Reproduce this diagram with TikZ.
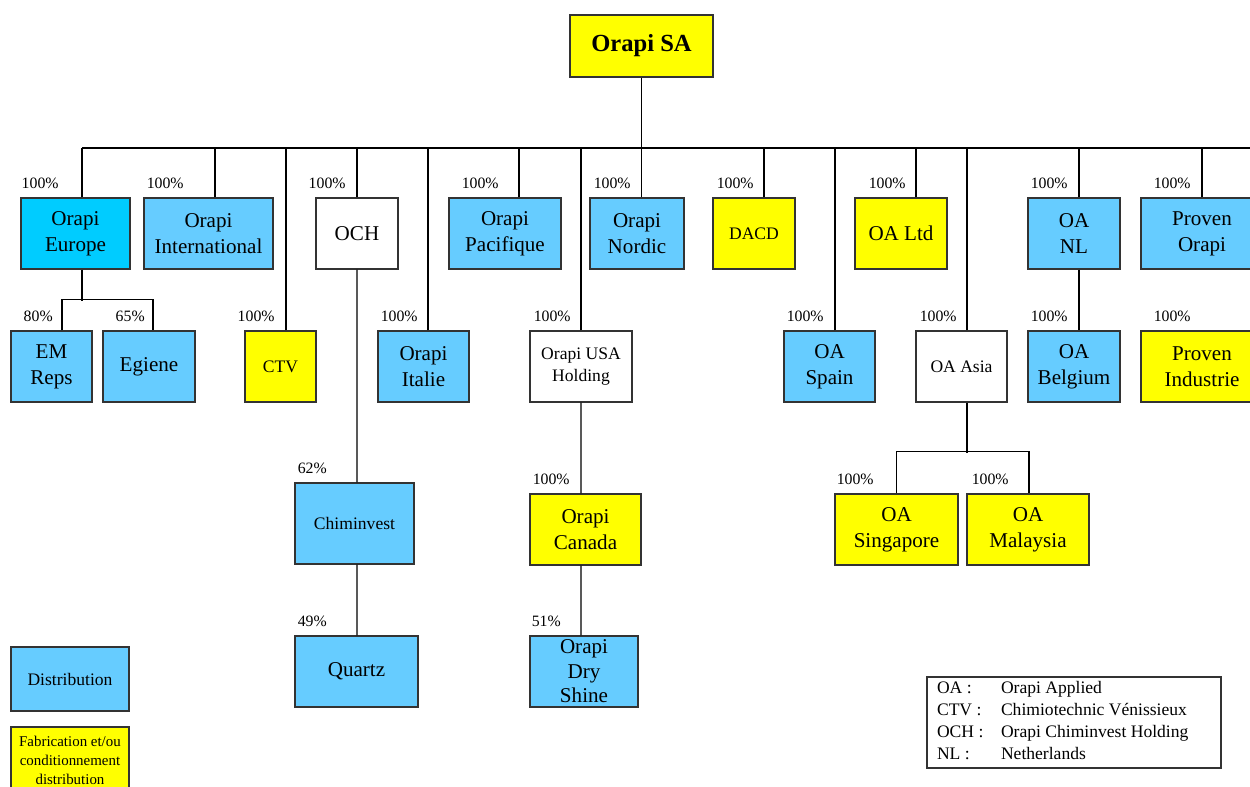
\documentclass[tikz,border=0pt]{standalone}
\usepackage{fontspec}
\setmainfont{Liberation Serif}
\definecolor{distblue}{RGB}{102,204,255}
\definecolor{eurblue}{RGB}{0,204,255}
\definecolor{fabyellow}{RGB}{255,255,0}
\definecolor{boxline}{RGB}{51,51,51}

\begin{document}
\begin{tikzpicture}[x=0.02cm,y=-0.02cm]
    \tikzstyle{box}=[rectangle,draw=boxline,line width=0.7pt,align=center,inner sep=2pt,minimum height=1.42cm,font=\fontsize{12}{14.7}\selectfont]
    \tikzstyle{dist}=[box,fill=distblue]
    \tikzstyle{fab}=[box,fill=fabyellow]
    \tikzstyle{hold}=[box,fill=white]
    \tikzstyle{smalltext}=[font=\fontsize{10}{12.5}\selectfont]
    \tikzstyle{pct}=[anchor=base west,inner sep=0pt,font=\fontsize{9}{11}\selectfont]
    \tikzstyle{link}=[line width=0.65pt,black]
    \path[use as bounding box] (0,0) rectangle (1250,787);
    \clip (0,0) rectangle (1250,787);
    % holding
    \node (sa)   at (641.5,46)    [fab,minimum width=2.86cm,minimum height=1.24cm,font=\fontsize{14}{17}\selectfont\bfseries] {Orapi SA};
    % first row
    \node (eur)  at (75.5,233.5)  [box,fill=eurblue,minimum width=2.18cm] {Orapi\\Europe};
    \node (intl) at (208.5,233.5) [dist,minimum width=2.58cm] {Orapi\\International};
    \node (och)  at (357,233.5)   [hold,minimum width=1.64cm] {OCH};
    \node (pac)  at (505,233.5)   [dist,minimum width=2.24cm] {Orapi\\Pacifique};
    \node (nor)  at (637,233.5)   [dist,minimum width=1.88cm] {Orapi\\Nordic};
    \node (dacd) at (754,233.5)   [fab,smalltext,minimum width=1.64cm] {DACD};
    \node (ltd)  at (901,233.5)   [fab,minimum width=1.84cm] {OA Ltd};
    \node (nl)   at (1074,233.5)  [dist,minimum width=1.84cm] {OA\\NL};
    \node (pro)  at (1202,233.5)  [dist,minimum width=2.44cm] {Proven\\Orapi};
    % second row
    \node (em)   at (51.5,366.5)  [dist,minimum width=1.62cm] {EM\\Reps};
    \node (egi)  at (149,366.5)   [dist,minimum width=1.84cm] {Egiene};
    \node (ctv)  at (280.5,366.5) [fab,smalltext,minimum width=1.42cm] {CTV};
    \node (ita)  at (423.5,366.5) [dist,minimum width=1.82cm] {Orapi\\Italie};
    \node (usa)  at (581,366.5)   [hold,smalltext,minimum width=2.04cm] {Orapi USA\\Holding};
    \node (spa)  at (829.5,366.5) [dist,minimum width=1.82cm] {OA\\Spain};
    \node (asia) at (961.5,366.5) [hold,smalltext,minimum width=1.82cm] {OA Asia};
    \node (bel)  at (1074,366.5)  [dist,minimum width=1.84cm] {OA\\Belgium};
    \node (ind)  at (1202,366.5)  [fab,minimum width=2.44cm] {Proven\\Industrie};
    % third and fourth row
    \node (chim) at (354.5,523.5) [dist,smalltext,minimum width=2.38cm,minimum height=1.62cm] {Chiminvest};
    \node (can)  at (585.5,529.5) [fab,minimum width=2.22cm] {Orapi\\Canada};
    \node (sing) at (896.5,529.5) [fab,minimum width=2.46cm] {OA\\Singapore};
    \node (mal)  at (1028,529.5)  [fab,minimum width=2.44cm] {OA\\Malaysia};
    \node (qua)  at (356.5,671.5) [dist,minimum width=2.46cm] {Quartz};
    \node (dry)  at (584,671.5)   [dist,inner ysep=0pt,minimum width=2.16cm,font=\fontsize{12}{13.9}\selectfont] {Orapi\\Dry\\Shine};
    % legend
    \node (legdist) at (70,679)   [dist,smalltext,minimum width=2.36cm,minimum height=1.28cm] {Distribution};
    \node (legfab)  at (70,760)   [fab,minimum width=2.36cm,minimum height=1.32cm,font=\fontsize{8.5}{10.8}\selectfont] {Fabrication et/ou\\conditionnement\\distribution};
    \node (abbr) at (1074,722.5) [draw=boxline,line width=0.7pt,minimum width=5.88cm,minimum height=1.82cm,inner sep=0pt,smalltext]
      {\begin{tabular}{@{}p{1.28cm}@{}p{4.2cm}@{}}
        OA : & Orapi Applied\\
        CTV : & Chimiotechnic Vénissieux\\
        OCH : & Orapi Chiminvest Holding\\
        NL : & Netherlands
      \end{tabular}};
    % connectors
    \coordinate (bus) at (0,148);
    \coordinate (busend) at (1262,148);
    \foreach \n/\sh in {eur/0.13,intl/0.13,och/0,pac/0.28,nor/0.09,dacd/0.2,ltd/0.3,nl/0.1,pro/0,ctv/0.11,ita/0.09,usa/0,spa/0.11,asia/0.11}
      \draw[link] ([xshift=\sh cm]\n.north) coordinate (\n-t) -- (\n-t |- bus);
    \draw[link] (eur-t |- bus) -- (busend);
    \draw[link] (sa.south) -- (sa.south |- bus);
    \draw[link] ([xshift=0.13cm]eur.south) -- ++(0,31);
    \draw[link] ([xshift=0.21cm]em.north) -- ++(0,-31) -| ([xshift=0.08cm]egi.north);
    \draw[link] (och.south) -- ([xshift=0.05cm]chim.north);
    \draw[link] ([xshift=0.05cm]chim.south) -- ([xshift=0.01cm]qua.north);
    \draw[link] (usa.south) -- ([xshift=-0.09cm]can.north);
    \draw[link] ([xshift=-0.09cm]can.south) -- ([xshift=-0.06cm]dry.north);
    \draw[link] ([xshift=0.11cm]asia.south) -- ++(0,50);
    \draw[link] (sing.north) -- ++(0,-42) -| ([xshift=0.02cm]mal.north);
    \draw[link] ([xshift=0.1cm]nl.south) -- ([xshift=0.1cm]bel.north);
    % shares
    \foreach \n/\dx/\pc in {eur/1/100,intl/3/100,och/-7/100,pac/13/100,nor/4/100,dacd/4/100,ltd/14/100,nl/3/100,pro/13/100,
        em/13/80,egi/13/65,ctv/-7/100,ita/3/100,usa/4/100,spa/3/100,asia/4/100,bel/3/100,ind/13/100,
        chim/3/62,qua/3/49,can/3/100,dry/2/51,sing/2/100,mal/5/100}
      \node[pct] (\n-p) at ([shift={(\dx,-8.5)}]\n.north west) {\pc\%};
\end{tikzpicture}
\end{document}
